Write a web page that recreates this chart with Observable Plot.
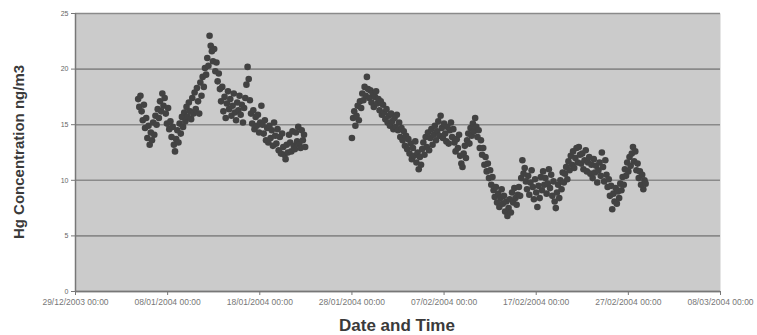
<!DOCTYPE html>
<html>
<head>
<meta charset="utf-8">
<script src="https://cdn.jsdelivr.net/npm/d3@7"></script>
<script src="https://cdn.jsdelivr.net/npm/@observablehq/plot@0.6"></script>
<style>
  html, body { margin: 0; padding: 0; background: #fff; }
  #chart { width: 757px; height: 335px; }
</style>
</head>
<body>
<div id="chart"></div>
<script>
// X tick positions (days since 29/12/2003) and their labels
const tickDays = [0, 10, 20, 30, 40, 50, 60, 70];
const tickLabels = ["29/12/2003 00:00", "08/01/2004 00:00", "18/01/2004 00:00", "28/01/2004 00:00",
                    "07/02/2004 00:00", "17/02/2004 00:00", "27/02/2004 00:00", "08/03/2004 00:00"];
const yTicks = [0, 5, 10, 15, 20, 25];

// Measurement runs: start day, 3-hour step, Hg concentration values (ng/m3)
const run1Start = 6.8;
const run1 = [
  17.3, 16.6, 17.6, 16.2, 15.4, 16.8, 14.7, 15.6,
  13.8, 14.9, 13.2, 14.3, 13.6, 15.2, 14.1, 15.8,
  15.0, 16.4, 15.6, 17.1, 16.2, 17.8, 16.7, 17.4,
  16.0, 15.1, 16.5, 14.6, 15.3, 13.9, 14.8, 13.2,
  12.6, 13.7, 14.5, 13.4, 15.1, 14.2, 15.7, 14.8,
  16.1, 15.3, 16.6, 15.7, 17.0, 16.2, 15.5, 17.4,
  16.0, 17.9, 16.4, 18.3, 17.1, 16.0, 18.8, 17.6,
  19.3, 18.4, 20.1, 19.5, 21.0, 20.3, 23.0, 22.1,
  21.6, 20.7, 21.8, 19.8, 20.6, 18.9, 19.6, 18.2,
  17.1, 18.4, 16.2, 17.5, 15.6, 16.9, 18.0, 16.4,
  17.3, 15.8, 16.7, 17.8, 16.1, 15.4, 17.0, 16.3,
  17.6, 15.9, 16.8, 15.2, 16.5, 17.4, 18.6, 20.2,
  19.1, 17.2, 16.0, 15.1, 16.3, 14.6, 15.7, 14.9,
  15.9, 14.3, 15.2, 16.7, 15.0, 14.2, 15.4, 13.6,
  14.7, 13.4, 14.9, 13.8, 14.5, 13.1, 15.2, 14.0,
  13.3, 14.6, 12.7, 13.9, 12.4, 14.2, 13.0, 12.3,
  11.9, 13.2, 12.5, 14.1, 13.4, 12.6, 14.4, 13.1,
  12.8, 14.3, 13.5, 14.8, 13.2, 12.9, 14.5, 13.6,
  14.1, 13.0
];
const run2Start = 30.0;
const run2 = [
  13.8, 15.6, 16.2, 14.9, 15.8, 16.7, 15.4, 17.1,
  16.5, 17.8, 17.2, 18.4, 17.6, 19.3, 18.2, 17.4,
  18.1, 17.0, 17.8, 16.6, 17.5, 18.0, 16.9, 17.3,
  16.3, 17.1, 15.9, 16.8, 16.1, 15.5, 16.4, 15.2,
  15.8, 14.9, 16.0, 15.3, 14.6, 15.6, 14.8, 15.9,
  14.5, 15.2, 13.9, 14.7, 13.6, 14.4, 13.1, 14.0,
  12.8, 13.7, 12.4, 13.3, 11.9, 12.9, 12.2, 13.5,
  11.6, 12.5, 11.0, 12.1, 11.4, 12.8, 13.4, 12.3,
  13.9, 13.0, 14.3, 12.7, 13.8, 14.6, 13.2, 14.1,
  14.9, 13.6, 14.4, 15.3, 14.0, 15.8, 14.7, 13.8,
  15.1, 14.2, 13.5, 14.8, 13.3, 14.5, 15.2, 13.9,
  14.6, 13.4, 12.6, 13.7, 12.9, 14.1, 12.2, 11.5,
  11.2, 12.4, 13.1, 12.0, 13.6, 14.2, 13.3, 14.7,
  14.0, 15.1, 14.4, 15.6, 14.8, 13.9, 14.5, 12.9,
  13.6, 12.3, 12.9, 11.4, 12.1, 10.8, 11.5, 10.2,
  10.9, 9.6, 10.3, 9.1, 8.5, 9.4, 8.0, 8.8,
  7.6, 8.4, 9.2, 7.9, 8.6, 7.2, 8.1, 6.8,
  7.5, 8.3, 7.1, 8.9, 8.0, 9.3, 8.4, 7.8,
  8.7, 9.4, 8.6, 10.2, 11.8, 10.6, 11.1, 9.9,
  9.2, 10.4, 8.7, 9.8, 10.9, 9.4, 8.3, 10.1,
  8.9, 7.6, 9.5, 8.4, 10.3, 9.1, 10.8, 9.6,
  10.2, 8.8, 9.7, 11.0, 9.3, 10.5, 8.6, 9.9,
  8.1, 7.5, 8.9, 9.6, 8.4, 10.0, 9.2, 10.7,
  9.8, 10.6, 11.2, 10.1, 11.7, 10.9, 12.2, 11.4,
  12.6, 11.1, 12.0, 12.9, 11.6, 13.0, 12.3, 11.5,
  12.4, 11.0, 11.8, 12.7, 10.8, 11.6, 12.1, 10.6,
  11.4, 10.2, 11.9, 10.7, 11.3, 9.8, 10.9, 11.6,
  10.4, 12.5, 11.2, 9.9, 11.8, 10.5, 9.4, 10.1,
  8.6, 9.5, 7.4, 8.8, 8.1, 9.3, 7.9, 9.0,
  8.4, 9.7, 9.1, 10.3, 9.6, 11.0, 10.4, 11.6,
  10.8, 12.1, 11.3, 12.4, 13.0, 11.7, 12.6, 10.9,
  11.5, 10.2, 10.8, 9.6, 10.5, 9.2, 10.0, 9.7
];
const stepDays = 0.125;

const data = [
  ...run1.map((v, i) => ({day: run1Start + i * stepDays, hg: v})),
  ...run2.map((v, i) => ({day: run2Start + i * stepDays, hg: v}))
];

const plot = Plot.plot({
  width: 757,
  height: 335,
  marginLeft: 75,
  marginRight: 37,
  marginTop: 13,
  marginBottom: 44,
  style: {background: "#fff", fontFamily: "Liberation Sans, Arial, sans-serif", color: "#666"},
  x: {domain: [0, 70], label: null},
  y: {domain: [0, 25], label: null},
  marks: [
    Plot.frame({fill: "#cbcbcb", stroke: null}),
    Plot.gridY(yTicks, {stroke: "#8a8a8a", strokeOpacity: 1, strokeWidth: 1.6}),
    Plot.dot(data, {x: "day", y: "hg", r: 3.3, fill: "#424242", stroke: null}),
    Plot.ruleX([0], {stroke: "#777", strokeWidth: 1.5}),
    Plot.ruleY([0], {stroke: "#777", strokeWidth: 1.5}),
    Plot.axisY(yTicks, {tickSize: 4, tickPadding: 3, fontSize: 7, stroke: "#777", fill: "#666"}),
    Plot.axisX(tickDays, {tickSize: 4, tickPadding: 3, fontSize: 8.5, stroke: "#777", fill: "#777",
      tickFormat: (d) => tickLabels[tickDays.indexOf(d)]})
  ]
});

const svg = d3.select(plot);
svg.append("text")
  .attr("x", 397).attr("y", 331)
  .attr("text-anchor", "middle")
  .attr("font-family", "Liberation Sans, Arial, sans-serif")
  .attr("font-weight", "bold").attr("font-size", 17)
  .attr("fill", "#3a3a3a")
  .text("Date and Time");
svg.append("text")
  .attr("transform", "translate(24,152) rotate(-90)")
  .attr("text-anchor", "middle")
  .attr("font-family", "Liberation Sans, Arial, sans-serif")
  .attr("font-weight", "bold").attr("font-size", 15)
  .attr("fill", "#3a3a3a")
  .text("Hg Concentration ng/m3");

document.getElementById("chart").appendChild(plot);
</script>
</body>
</html>
